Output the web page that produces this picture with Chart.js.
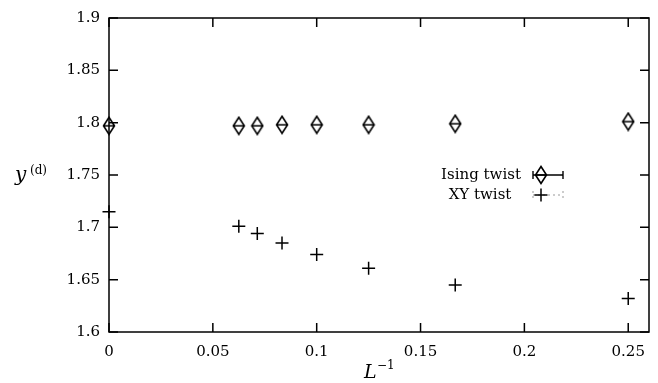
<!DOCTYPE html>
<html>
<head>
<meta charset="utf-8">
<script src="https://cdn.jsdelivr.net/npm/chart.js@4/dist/chart.umd.min.js"></script>
<style>
  html, body { margin: 0; padding: 0; background: #fff; }
  #wrap { width: 658px; height: 383px; }
</style>
</head>
<body>
<div id="wrap"><canvas id="chart" width="658" height="383"></canvas></div>
<script>
// inverse system sizes L^-1 (L = inf, 16, 14, 12, 10, 8, 6, 4)
const invL = [0, 0.0625, 0.0714, 0.0833, 0.1, 0.125, 0.1667, 0.25];
const isingTwist = [1.797, 1.797, 1.797, 1.798, 1.798, 1.798, 1.799, 1.801];
const xyTwist = [1.715, 1.701, 1.694, 1.685, 1.674, 1.661, 1.645, 1.632];

const xTicks = [0, 0.05, 0.1, 0.15, 0.2, 0.25];
const yTicks = [1.6, 1.65, 1.7, 1.75, 1.8, 1.85, 1.9];
const xTickLabels = ["0", "0.05", "0.1", "0.15", "0.2", "0.25"];
const yTickLabels = ["1.6", "1.65", "1.7", "1.75", "1.8", "1.85", "1.9"];

const FONT = "'DejaVu Serif', 'Liberation Serif', serif";

// tall diamond with a bar through the middle, like the gnuplot marker
function diamondMarker() {
  const c = document.createElement("canvas");
  c.width = 14; c.height = 20;
  const g = c.getContext("2d");
  g.strokeStyle = "#000";
  g.lineWidth = 1.6;
  g.beginPath();
  g.moveTo(7, 1.5);
  g.lineTo(12.5, 10);
  g.lineTo(7, 18.5);
  g.lineTo(1.5, 10);
  g.closePath();
  g.moveTo(1.5, 10);
  g.lineTo(12.5, 10);
  g.stroke();
  return c;
}
const diamond = diamondMarker();

function drawCross(ctx, x, y, r) {
  ctx.beginPath();
  ctx.moveTo(x - r, y); ctx.lineTo(x + r, y);
  ctx.moveTo(x, y - r); ctx.lineTo(x, y + r);
  ctx.stroke();
}

const framePlugin = {
  id: "frame",
  afterDraw(chart) {
    const { ctx, chartArea: a, scales } = chart;
    ctx.save();
    ctx.strokeStyle = "#000";
    ctx.lineWidth = 1.5;
    ctx.strokeRect(a.left, a.top, a.right - a.left, a.bottom - a.top);

    // inward ticks on all four sides
    const len = 9;
    ctx.beginPath();
    scales.x.ticks.forEach(t => {
      const px = scales.x.getPixelForValue(t.value);
      ctx.moveTo(px, a.bottom); ctx.lineTo(px, a.bottom - len);
      ctx.moveTo(px, a.top); ctx.lineTo(px, a.top + len);
    });
    scales.y.ticks.forEach(t => {
      const py = scales.y.getPixelForValue(t.value);
      ctx.moveTo(a.left, py); ctx.lineTo(a.left + len, py);
      ctx.moveTo(a.right, py); ctx.lineTo(a.right - len, py);
    });
    ctx.stroke();

    // axis titles
    ctx.fillStyle = "#000";
    ctx.textBaseline = "alphabetic";
    ctx.textAlign = "left";
    ctx.font = "italic 20px " + FONT;
    ctx.fillText("y", 15, 181);
    ctx.font = "12px " + FONT;
    ctx.fillText("(d)", 30, 174);

    const cx = (a.left + a.right) / 2;
    ctx.font = "italic 19px " + FONT;
    ctx.fillText("L", cx - 15, 378);
    ctx.font = "12px " + FONT;
    ctx.fillText("\u22121", cx - 2, 369);

    // legend inside the plot
    ctx.font = "15px " + FONT;
    ctx.textAlign = "center";
    ctx.textBaseline = "middle";
    ctx.fillText("Ising twist", 481, 175);
    ctx.fillText("XY twist", 480, 195);

    ctx.lineWidth = 1.4;
    ctx.beginPath();
    ctx.moveTo(533, 175); ctx.lineTo(563, 175);
    ctx.moveTo(533, 171); ctx.lineTo(533, 179);
    ctx.moveTo(563, 171); ctx.lineTo(563, 179);
    ctx.stroke();
    ctx.drawImage(diamond, 541 - diamond.width / 2, 175 - diamond.height / 2);

    ctx.strokeStyle = "#999";
    ctx.lineWidth = 1;
    ctx.setLineDash([2, 3]);
    ctx.beginPath();
    ctx.moveTo(533, 195); ctx.lineTo(563, 195);
    ctx.moveTo(533, 191); ctx.lineTo(533, 199);
    ctx.moveTo(563, 191); ctx.lineTo(563, 199);
    ctx.stroke();
    ctx.setLineDash([]);
    ctx.strokeStyle = "#000";
    ctx.lineWidth = 1.5;
    drawCross(ctx, 541, 195, 6.5);
    ctx.restore();
  }
};

new Chart(document.getElementById("chart"), {
  type: "scatter",
  data: {
    datasets: [
      {
        label: "Ising twist",
        data: invL.map((x, i) => ({ x, y: isingTwist[i] })),
        pointStyle: diamond,
        pointRadius: 8,
        clip: false
      },
      {
        label: "XY twist",
        data: invL.map((x, i) => ({ x, y: xyTwist[i] })),
        pointStyle: "cross",
        pointRadius: 6.5,
        borderColor: "#000",
        borderWidth: 1.5,
        clip: false
      }
    ]
  },
  options: {
    responsive: false,
    animation: false,
    layout: { padding: { top: 17, right: 9, left: 0, bottom: 0 } },
    plugins: {
      legend: { display: false },
      tooltip: { enabled: false }
    },
    scales: {
      x: {
        type: "linear",
        min: 0,
        max: 0.26,
        afterBuildTicks: s => { s.ticks = xTicks.map(v => ({ value: v })); },
        afterFit: s => { s.height = 51; },
        grid: { display: false, drawTicks: false },
        border: { display: false },
        ticks: {
          padding: 11,
          color: "#000",
          font: { family: FONT, size: 15 },
          callback: (v) => xTickLabels[xTicks.findIndex(t => Math.abs(t - v) < 1e-9)]
        }
      },
      y: {
        type: "linear",
        min: 1.6,
        max: 1.9,
        afterBuildTicks: s => { s.ticks = yTicks.map(v => ({ value: v })); },
        afterFit: s => { s.width = 109; },
        grid: { display: false, drawTicks: false },
        border: { display: false },
        ticks: {
          padding: 9,
          color: "#000",
          font: { family: FONT, size: 15 },
          callback: (v) => yTickLabels[yTicks.findIndex(t => Math.abs(t - v) < 1e-9)]
        }
      }
    }
  },
  plugins: [framePlugin]
});
</script>
</body>
</html>
